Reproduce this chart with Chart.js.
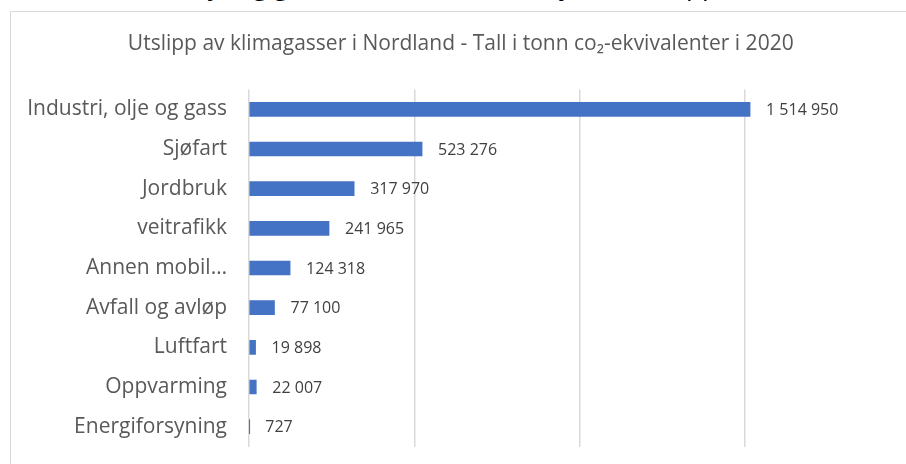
<!DOCTYPE html>
<html>
<head>
<meta charset="utf-8">
<script src="https://cdn.jsdelivr.net/npm/chart.js@4.4.1/dist/chart.umd.min.js"></script>
<style>
  html, body { margin: 0; padding: 0; background: #fff; overflow: hidden; width: 906px; height: 464px; }
  #heading {
    position: absolute; left: 80px; top: -30px; white-space: nowrap;
    font-family: 'Open Sans', sans-serif; font-size: 26px; line-height: 30px; color: #000;
  }
  #box {
    position: absolute; left: 10px; top: 11px; width: 924px; height: 470px;
    border-left: 1.5px solid #d9d9d9; border-top: 1.5px solid #d9d9d9;
  }
  canvas { display: block; }
</style>
</head>
<body>
<div id="heading">Industri, olje og gass er største kilde til fylkets utslipp</div>
<div id="box"><canvas id="chart" width="924" height="470"></canvas></div>
<script>
const TITLE      = 'Utslipp av klimagasser i Nordland - Tall i tonn co\u2082-ekvivalenter i 2020';
const CATEGORIES = ['Industri, olje og gass', 'Sjøfart', 'Jordbruk', 'veitrafikk', 'Annen mobil forbrenning',
                    'Avfall og avløp', 'Luftfart', 'Oppvarming', 'Energiforsyning'];
const EMISSIONS  = [1514950, 523276, 317970, 241965, 124318, 77100, 19898, 22007, 727];
const X_MAX      = 2000000;
const X_STEP     = 500000;

const BAR_COLOR   = '#4472C4';
const GRID_COLOR  = '#d9d9d9';
const LABEL_COLOR = '#595959';
const VALUE_COLOR = '#404040';
const FONT_FAMILY = "'Open Sans', sans-serif";

function fmtNO(v) {
  return String(v).replace(/\B(?=(\d{3})+(?!\d))/g, ' ');
}

// Excel cuts long category names short
function shorten(label) {
  return label.length > 22 ? label.slice(0, 11) + '\u2026' : label;
}

const valueLabels = {
  id: 'valueLabels',
  afterDatasetsDraw(chart) {
    const ctx = chart.ctx;
    const meta = chart.getDatasetMeta(0);
    ctx.save();
    ctx.font = '16px ' + FONT_FAMILY;
    ctx.fillStyle = VALUE_COLOR;
    ctx.textAlign = 'left';
    ctx.textBaseline = 'middle';
    meta.data.forEach((bar, i) => {
      ctx.fillText(fmtNO(EMISSIONS[i]), bar.x + 16, bar.y + 1);
    });
    ctx.restore();
  },
};

new Chart(document.getElementById('chart'), {
  type: 'bar',
  data: {
    labels: CATEGORIES,
    datasets: [{ data: EMISSIONS, backgroundColor: BAR_COLOR, barThickness: 14, borderWidth: 0 }],
  },
  options: {
    indexAxis: 'y',
    responsive: false,
    animation: false,
    layout: { padding: { left: 0, right: 24.5, top: 0, bottom: 35.5 } },
    plugins: {
      legend: { display: false },
      tooltip: { enabled: false },
      title: {
        display: true,
        text: TITLE,
        color: LABEL_COLOR,
        font: { family: FONT_FAMILY, size: 21, weight: 'normal' },
        padding: { top: 19, bottom: 33.3 },
      },
    },
    scales: {
      x: {
        min: 0,
        max: X_MAX,
        border: { display: false },
        grid: { color: GRID_COLOR, lineWidth: 1.5, drawTicks: false },
        ticks: { display: false, stepSize: X_STEP },
      },
      y: {
        border: { display: false },
        grid: { display: false, drawTicks: false },
        ticks: {
          color: LABEL_COLOR,
          font: { family: FONT_FAMILY, size: 21 },
          padding: 22,
          autoSkip: false,
          callback: function (v) { return shorten(this.getLabelForValue(v)); },
        },
        afterFit: scale => { scale.width = 238; },
      },
    },
  },
  plugins: [valueLabels],
});
</script>
</body>
</html>
